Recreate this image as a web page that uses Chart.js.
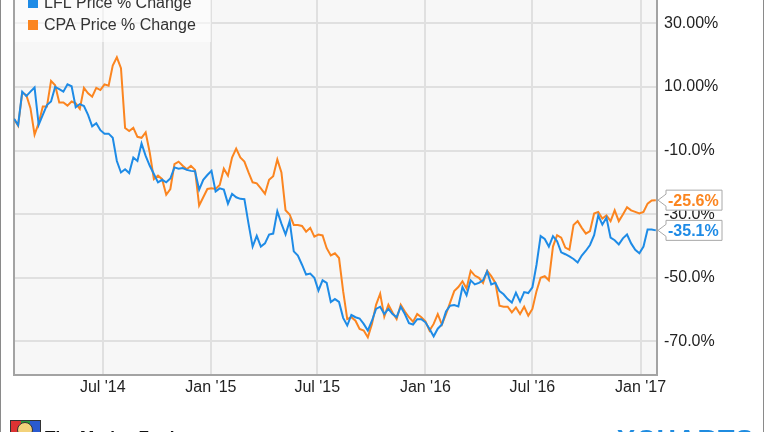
<!DOCTYPE html>
<html>
<head>
<meta charset="utf-8">
<script src="https://cdn.jsdelivr.net/npm/chart.js@4.4.0/dist/chart.umd.min.js"></script>
<style>
html,body{margin:0;padding:0;background:#fff;}
#wrap{position:relative;width:764px;height:432px;overflow:hidden;background:#fff;font-family:"Liberation Sans",Arial,sans-serif;}
#c{position:absolute;left:0;top:-23px;}
.fr{position:absolute;top:0;width:1px;height:432px;background:#8a8a8a;}
#logo{position:absolute;left:10px;top:420px;width:31px;height:18px;border:1px solid #333;box-sizing:border-box;
 background:linear-gradient(90deg,#d33 0 33%,#2a9a3a 33% 66%,#2a5ad0 66% 100%);}
#logo2{position:absolute;left:17px;top:422px;width:16px;height:16px;border-radius:50%;background:#f3d27a;border:1px solid #333;box-sizing:border-box;}
#fool{position:absolute;left:45px;top:429px;font-weight:bold;font-size:17px;line-height:17px;color:#111;white-space:nowrap;}
#ych{position:absolute;left:617px;top:427px;font-weight:bold;font-size:27px;line-height:27px;color:#1f8ce0;letter-spacing:1px;white-space:nowrap;}
</style>
</head>
<body>
<div id="wrap">
  <canvas id="c" width="764" height="455"></canvas>
  <div class="fr" style="left:0"></div>
  <div class="fr" style="left:763px"></div>
  <div id="logo"></div><div id="logo2"></div>
  <div id="fool">The Motley Fool</div>
  <div id="ych">YCHARTS</div>
</div>
<script>
// weekly observations starting from this date
const startDate = '2014-01-31';
const seriesNames = ['LFL Price % Change', 'CPA Price % Change'];
const seriesColors = ['#1e8be6', '#fb8520'];

const lflValues = [0,-2.0,8.5,7.1,8.5,9.8,-1.9,1.2,4.3,5.4,
10.0,9.3,8.5,10.8,10.2,3.6,4.6,4.0,1.2,-2.4,
-1.4,-3.6,-4.7,-4.7,-6.0,-13.3,-16.9,-15.9,-17.1,-12.2,
-13.3,-7.8,-11.7,-14.8,-17.4,-20.0,-19.2,-20.0,-18.8,-15.3,
-15.7,-15.5,-16.1,-16.4,-16.5,-22.3,-19.2,-17.7,-16.4,-22.9,
-21.9,-22.3,-26.7,-23.6,-24.7,-25.2,-25.3,-33.0,-40.2,-36.8,
-40.2,-39.2,-36.4,-36.1,-29.1,-33.0,-36.4,-32.2,-41.7,-43.0,
-45.9,-49.0,-48.7,-50.0,-54.0,-50.8,-51.6,-57.6,-56.7,-57.6,
-62.6,-65.0,-61.7,-62.4,-62.8,-64.5,-66.6,-63.5,-59.8,-59.1,
-61.4,-59.8,-61.4,-62.4,-59.1,-61.4,-64.3,-64.7,-63.0,-63.0,
-64.0,-66.1,-68.4,-66.0,-64.7,-60.6,-58.8,-58.6,-59.0,-52.9,
-55.5,-50.8,-52.1,-51.6,-50.8,-48.0,-52.1,-51.6,-54.2,-55.2,
-56.7,-57.8,-54.7,-57.5,-54.5,-54.8,-53.0,-45.9,-36.9,-37.8,
-40.2,-36.9,-38.5,-42.0,-42.6,-43.3,-44.1,-45.2,-43.0,-41.5,
-39.7,-36.6,-30.4,-33.3,-31.1,-37.4,-38.2,-39.5,-37.6,-36.4,
-39.2,-41.2,-42.3,-40.2,-34.8,-34.8,-35.1];

const cpaValues = [0,-2.2,8.2,7.4,3.3,-5.0,-1.4,3.8,3.8,11.9,
10.5,5.1,5.1,4.1,5.4,4.8,3.1,9.7,8.0,6.9,
9.7,9.0,10.8,10.4,16.7,19.3,15.9,-2.9,-3.9,-2.9,
-5.7,-6.0,-4.3,-10.7,-19.0,-17.9,-19.0,-23.9,-22.1,-14.3,
-13.5,-14.8,-15.9,-14.8,-16.1,-27.3,-24.7,-22.1,-21.9,-22.1,
-20.8,-15.7,-17.9,-12.2,-9.4,-12.2,-13.5,-16.9,-20.0,-20.3,
-21.9,-23.6,-19.2,-18.1,-12.8,-16.9,-28.8,-30.1,-33.4,-33.4,
-33.7,-35.5,-34.3,-37.1,-36.4,-36.7,-40.7,-43.0,-42.3,-43.8,
-54.2,-63.0,-62.4,-63.5,-66.1,-66.6,-68.7,-64.5,-58.5,-55.0,
-62.2,-58.5,-60.9,-63.0,-58.5,-60.6,-62.4,-63.8,-61.4,-62.4,
-63.7,-66.6,-64.5,-61.4,-64.7,-61.4,-57.8,-54.2,-52.9,-51.1,
-53.4,-47.8,-49.3,-50.0,-51.6,-47.8,-49.5,-51.6,-58.8,-59.1,
-59.1,-60.9,-59.3,-61.4,-59.1,-61.9,-59.8,-54.2,-50.0,-49.5,
-50.8,-40.2,-36.6,-37.4,-40.5,-41.2,-33.4,-32.2,-34.3,-36.1,
-35.3,-29.8,-29.3,-31.4,-30.4,-32.2,-28.8,-32.2,-30.1,-27.8,
-28.8,-29.3,-29.8,-29.3,-26.7,-25.7,-25.6];

const xTickDates = ['2014-07-01','2015-01-01','2015-07-01','2016-01-01','2016-07-01','2017-01-01'];
const xTickLabels = ["Jul '14","Jan '15","Jul '15","Jan '16","Jul '16","Jan '17"];
const yTickValues = [30, 10, -10, -30, -50, -70];
const yTickLabels = ['30.00%','10.00%','-10.0%','-30.0%','-50.0%','-70.0%'];
const endLabels = ['-35.1%', '-25.6%'];

const DAY = 86400000;
const t0 = Date.parse(startDate);
const dayOf = s => (Date.parse(s) - t0) / DAY;
const toPoints = vals => vals.map((v, i) => ({x: i * 7, y: v}));

const FONT = '"Liberation Sans", Arial, sans-serif';

const plotBg = {
  id: 'plotBg',
  beforeDraw(chart) {
    const {ctx, chartArea: a} = chart;
    ctx.save();
    ctx.fillStyle = '#f7f7f7';
    ctx.fillRect(a.left, a.top, a.right - a.left, a.bottom - a.top);
    ctx.restore();
  },
  beforeDatasetsDraw(chart) {
    const {ctx, chartArea: a} = chart;
    ctx.save();
    ctx.strokeStyle = '#a3a3a3';
    ctx.lineWidth = 2;
    ctx.beginPath();
    ctx.moveTo(a.left, a.top); ctx.lineTo(a.left, a.bottom);
    ctx.lineTo(a.right, a.bottom); ctx.lineTo(a.right, a.top);
    ctx.stroke();
    ctx.restore();
  }
};

const legendPlugin = {
  id: 'inLegend',
  afterDatasetsDraw(chart) {
    const {ctx, chartArea: a} = chart;
    ctx.save();
    ctx.fillStyle = 'rgba(255,255,255,0.55)';
    ctx.fillRect(a.left + 1, a.top, 196, 65 - a.top);
    ctx.font = '16px ' + FONT;
    ctx.textBaseline = 'middle';
    chart.data.datasets.forEach((ds, i) => {
      const cy = 26 + i * 22;
      ctx.fillStyle = ds.borderColor;
      ctx.fillRect(a.left + 14, cy - 5, 10, 10);
      ctx.fillStyle = '#333';
      ctx.fillText(ds.label, a.left + 30, cy + 1);
    });
    ctx.restore();
  }
};

const endLabelPlugin = {
  id: 'endLabels',
  afterDraw(chart) {
    const {ctx, chartArea: a} = chart;
    ctx.save();
    ctx.font = 'bold 16px ' + FONT;
    ctx.textBaseline = 'middle';
    chart.data.datasets.forEach((ds, i) => {
      const meta = chart.getDatasetMeta(i);
      const pt = meta.data[meta.data.length - 1];
      const y = pt.y;
      const bl = a.right + 9, br = a.right + 65, top = y - 10, bot = y + 10;
      ctx.beginPath();
      ctx.moveTo(a.right + 1, y);
      ctx.lineTo(bl, y - 6);
      ctx.lineTo(bl, top);
      ctx.lineTo(br, top);
      ctx.lineTo(br, bot);
      ctx.lineTo(bl, bot);
      ctx.lineTo(bl, y + 6);
      ctx.closePath();
      ctx.fillStyle = '#fff';
      ctx.fill();
      ctx.strokeStyle = '#a8a8a8';
      ctx.lineWidth = 1;
      ctx.stroke();
      ctx.fillStyle = ds.borderColor;
      ctx.fillText(endLabels[i], bl + 2, y + 1);
    });
    ctx.restore();
  }
};

new Chart(document.getElementById('c'), {
  type: 'line',
  data: {
    datasets: [
      {label: seriesNames[0], data: toPoints(lflValues), borderColor: seriesColors[0], backgroundColor: seriesColors[0], borderWidth: 2, pointRadius: 0, tension: 0, fill: false},
      {label: seriesNames[1], data: toPoints(cpaValues), borderColor: seriesColors[1], backgroundColor: seriesColors[1], borderWidth: 2, pointRadius: 0, tension: 0, fill: false}
    ]
  },
  options: {
    responsive: false,
    animation: false,
    devicePixelRatio: 1,
    layout: {padding: {top: 12, left: 14, right: 0, bottom: 0}},
    plugins: {legend: {display: false}, tooltip: {enabled: false}},
    scales: {
      x: {
        type: 'linear', min: 0, max: 1094,
        afterBuildTicks: s => { s.ticks = xTickDates.map(d => ({value: dayOf(d)})); },
        afterFit: s => { s.height = 57; },
        ticks: {callback: (v, i) => xTickLabels[i], autoSkip: false, maxRotation: 0, color: '#222', padding: 3, font: {size: 16, family: FONT}},
        grid: {color: '#e0e0e0', lineWidth: 2, drawTicks: false},
        border: {display: false}
      },
      y: {
        position: 'right', min: -80.56, max: 39.32,
        afterBuildTicks: s => { s.ticks = yTickValues.map(v => ({value: v})); },
        afterFit: s => { s.width = 107; },
        ticks: {callback: (v, i) => yTickLabels[i], autoSkip: false, color: '#222', padding: 7, font: {size: 16, family: FONT}},
        grid: {color: '#e0e0e0', lineWidth: 2, drawTicks: false},
        border: {display: false}
      }
    }
  },
  plugins: [plotBg, legendPlugin, endLabelPlugin]
});
</script>
</body>
</html>
